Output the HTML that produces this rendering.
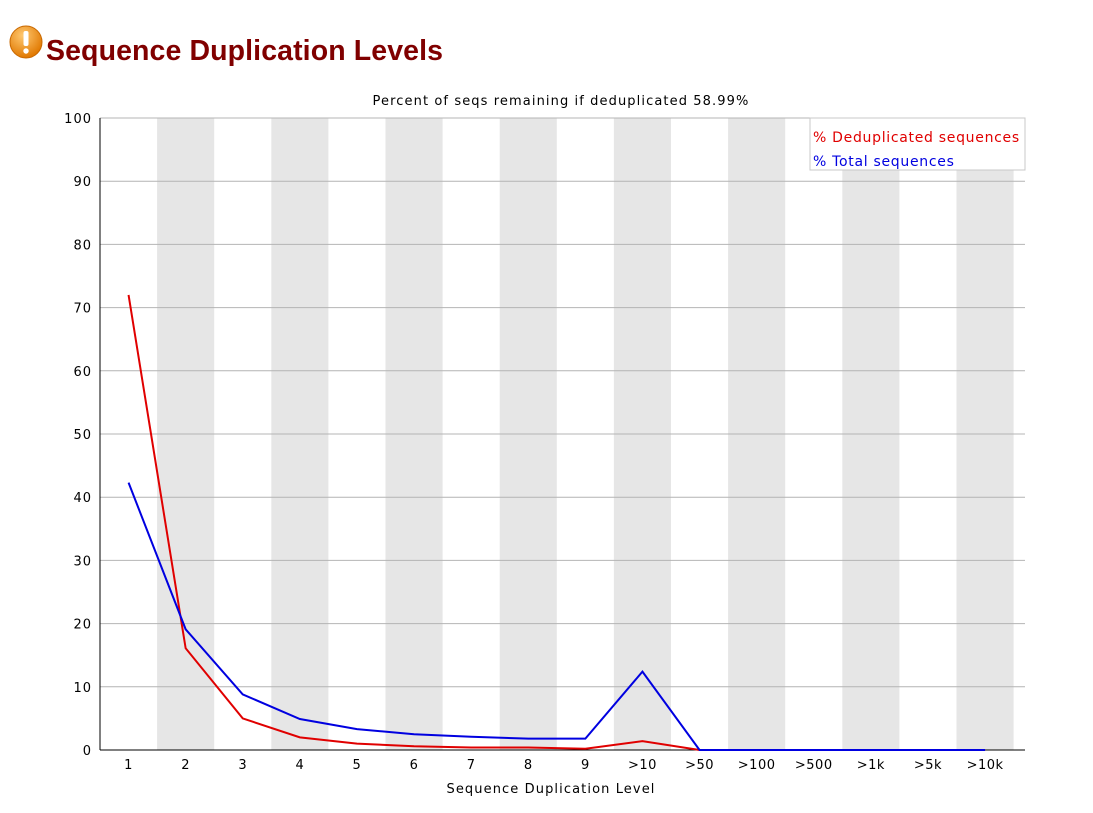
<!DOCTYPE html>
<html><head><meta charset="utf-8"><style>
body{margin:0;background:#fff;width:1093px;height:813px;overflow:hidden;font-family:"DejaVu Sans","Liberation Sans",sans-serif;}
#title{position:absolute;left:46px;top:35px;font-family:"Liberation Sans",sans-serif;font-weight:bold;font-size:28.5px;letter-spacing:0.1px;color:#800000;margin:0;}
#icon{position:absolute;left:9px;top:25px;}
</style></head><body>
<svg id="icon" width="34" height="34" viewBox="0 0 34 34">
<defs><radialGradient id="g" cx="40%" cy="30%" r="70%"><stop offset="0" stop-color="#ffc870"/><stop offset="1" stop-color="#e07800"/></radialGradient></defs>
<circle cx="17" cy="17" r="16" fill="url(#g)" stroke="#c86800"/>
<rect x="14.5" y="6" width="5" height="15" rx="2" fill="#fff"/><circle cx="17" cy="26" r="2.7" fill="#fff"/></svg>
<h1 id="title">Sequence Duplication Levels</h1>
<svg id="chart" width="1093" height="813" style="position:absolute;left:0;top:0"></svg>
<script>
const categories=["1","2","3","4","5","6","7","8","9",">10",">50",">100",">500",">1k",">5k",">10k"];
const dedupValues=[72,16.1,5.0,2.0,1.0,0.6,0.4,0.4,0.2,1.4,0,0,0,0,0,0];
const totalValues=[42.3,19.1,8.8,4.9,3.3,2.5,2.1,1.8,1.8,12.4,0,0,0,0,0,0];
const yTicks=[0,10,20,30,40,50,60,70,80,90,100];
const svg=document.getElementById('chart');
const NS='http://www.w3.org/2000/svg';
const L=100,R=1025,T=118,B=750,BW=57.1;
const x=i=>L+BW*(i+0.5);
const y=v=>B-(v/100)*(B-T);
function mk(t,a,txt){const e=document.createElementNS(NS,t);for(const k in a)e.setAttribute(k,a[k]);if(txt!==undefined)e.textContent=txt;svg.appendChild(e);return e;}
categories.forEach((c,i)=>{if(i%2===1){const r=mk('rect',{x:L+BW*i,y:T,width:BW,height:B-T,fill:'#e6e6e6'});

}});
yTicks.forEach(v=>{const g=mk('line',{x1:L,x2:R,y1:y(v),y2:y(v),stroke:'#b4b4b4','stroke-width':1});


const t=mk('text',{x:L-8,y:y(v)+5,'text-anchor':'end','font-size':13,'letter-spacing':1,fill:'#000'},String(v));

});
const ax=mk('line',{x1:L,x2:L,y1:T,y2:B,stroke:'#000'});


const bx=mk('line',{x1:L,x2:R,y1:B,y2:B,stroke:'#000'});


categories.forEach((c,i)=>{const t=mk('text',{x:x(i),y:B+19,'text-anchor':'middle','font-size':13,'letter-spacing':0.5,fill:'#000'},c);

});
function line(vals,color,name){const p=mk('polyline',{points:vals.map((v,i)=>x(i)+','+y(v)).join(' '),fill:'none',stroke:color,'stroke-width':2});

}
line(dedupValues,'#e00000','deduplicated-sequences-line');
line(totalValues,'#0000e0','total-sequences-line');
const st=mk('text',{x:561,y:105,'text-anchor':'middle','font-size':13,'letter-spacing':1.1,fill:'#000'},'Percent of seqs remaining if deduplicated 58.99%');


const xt=mk('text',{x:551,y:793,'text-anchor':'middle','font-size':13,'letter-spacing':1.1,fill:'#000'},'Sequence Duplication Level');


const lg=mk('rect',{x:810,y:118,width:215,height:52,fill:'#fff',stroke:'#c8c8c8'});


const l1=mk('text',{x:813,y:142,'font-size':14,'letter-spacing':0.7,fill:'#e00000'},'% Deduplicated sequences');


const l2=mk('text',{x:813,y:166,'font-size':14,'letter-spacing':0.7,fill:'#0000e0'},'% Total sequences');


</script>
</body></html>
